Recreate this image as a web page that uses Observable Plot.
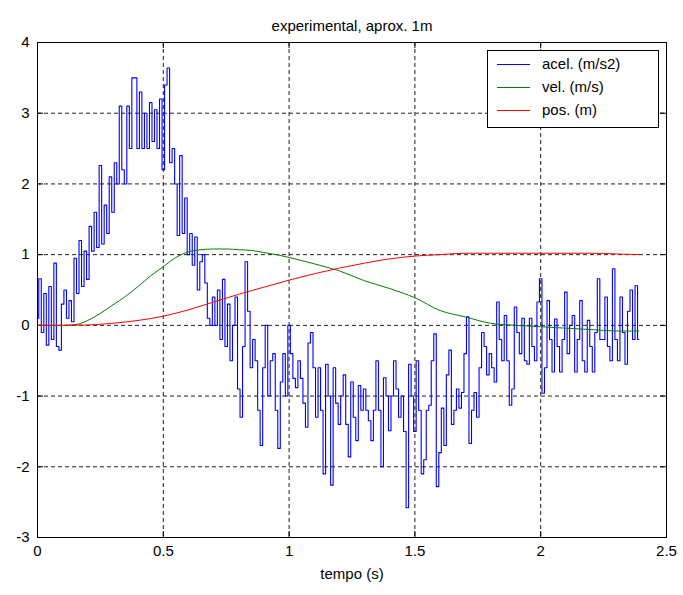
<!DOCTYPE html>
<html>
<head>
<meta charset="utf-8">
<script src="https://cdn.jsdelivr.net/npm/d3@7"></script>
<script src="https://cdn.jsdelivr.net/npm/@observablehq/plot@0.6"></script>
<style>
  html, body { margin: 0; padding: 0; background: #ffffff; }
  #chart svg { display: block; }
</style>
</head>
<body>
<div id="chart"></div>
<script>
// ---- text ----
const title = "experimental, aprox. 1m";
const xLabel = "tempo (s)";
const xTicks = [0, 0.5, 1, 1.5, 2, 2.5];
const yTicks = [-3, -2, -1, 0, 1, 2, 3, 4];
const seriesNames = ["acel. (m/s2)", "vel. (m/s)", "pos. (m)"];
const seriesColors = ["#0000ff", "#008000", "#ff0000"];

// ---- acceleration: one sample every 0.01 s, from t = 0 ----
const acelStep = 0.01;
const acel = [
  0.1, 0.66, -0.1, 0.45, -0.28, 0.55, -0.2, 0.88, -0.3, -0.35,
  0.3, 0.5, 0.1, 0.35, 0.05, 0.95, 0.45, 1.2, 0.55, 1.05,
  0.65, 1.4, 1.05, 1.6, 1.1, 2.26, 1.15, 1.7, 1.3, 2.1,
  1.6, 2.3, 2.0, 3.1, 2.2, 2.0, 3.1, 2.5, 3.5, 3.5,
  2.5, 3.3, 2.5, 3.0, 2.5, 3.15, 2.6, 3.05, 2.5, 3.2,
  2.2, 3.4, 3.64, 2.3, 2.5, 2.0, 1.27, 2.4, 1.3, 1.8,
  1.0, 1.3, 0.85, 1.25, 0.5, 0.9, 1.0, 0.6, 0.1, 0.0,
  0.4, 0.0, 0.5, -0.2, 0.65, -0.3, 0.3, -0.5, 0.0, 0.4,
  -0.9, -1.3, -0.3, 0.9, 0.2, -0.6, -0.2, -0.5, -1.2, -1.7,
  -0.6, 0.0, -1.0, -0.5, -0.4, -1.2, -1.74, -0.8, -0.4, -1.0,
  0.0, -0.4, -0.75, -0.88, -0.5, -0.75, -1.1, -1.44, -0.25, -0.1,
  -0.6, -1.3, -0.6, -1.2, -2.1, -0.55, -1.0, -2.26, -0.6, -1.1,
  -1.4, -1.0, -0.7, -1.4, -1.86, -0.8, -1.3, -1.63, -0.85, -1.2,
  -0.9, -1.2, -1.35, -1.63, -1.2, -0.5, -1.2, -2.0, -0.74, -1.0,
  -1.49, -1.0, -0.5, -0.9, -1.3, -1.0, -1.5, -2.58, -0.55, -1.0,
  -1.5, -0.5, -1.2, -2.1, -1.9, -1.2, -1.13, -0.5, -0.12, -2.28,
  -1.8, -1.17, -1.7, -0.7, -0.35, -1.4, -1.2, -0.9, -1.17, -0.95,
  -0.4, 0.12, -1.67, -1.2, -0.95, -1.3, -0.6, -0.1, -0.3, -0.7,
  -0.4, -0.6, -0.8, 0.33, -0.2, -0.5, 0.14, -0.5, -1.13, -0.9,
  0.26, -0.1, -0.4, 0.1, -0.5, -0.55, 0.1, -0.3, -0.5, 0.33,
  0.66, -0.96, -0.6, 0.35, -0.2, -0.66, 0.09, -0.3, -0.66, -0.2,
  0.47, -0.4, 0.0, 0.14, -0.66, -0.2, 0.35, -0.5, -0.66, 0.07,
  -0.3, -0.66, -0.1, 0.66, -0.2, -0.2, 0.4, -0.3, -0.5, 0.8,
  -0.2, -0.5, 0.4, -0.1, -0.55, 0.2, 0.5, -0.2, 0.56, -0.2
];

// ---- velocity ----
const velTime = [0, 0.1, 0.15, 0.2, 0.25, 0.3, 0.35, 0.4, 0.45, 0.5, 0.55, 0.6, 0.65, 0.7, 0.75, 0.8, 0.85, 0.9, 0.95, 1.0,
                 1.1, 1.2, 1.3, 1.4, 1.5, 1.6, 1.7, 1.8, 1.9, 2.0, 2.1, 2.2, 2.3, 2.39];
const vel = [0, 0, 0.01, 0.07, 0.17, 0.29, 0.41, 0.55, 0.70, 0.83, 0.96, 1.04, 1.07, 1.08, 1.08, 1.07, 1.06, 1.03, 1.0, 0.96,
             0.87, 0.77, 0.63, 0.52, 0.39, 0.21, 0.12, 0.03, 0.0, -0.02, -0.04, -0.06, -0.08, -0.08];

// ---- position ----
const posTime = [0, 0.1, 0.2, 0.3, 0.4, 0.5, 0.6, 0.7, 0.8, 0.9, 1.0, 1.1, 1.2, 1.3, 1.4, 1.5, 1.6, 1.7, 1.8, 1.9, 2.0, 2.1, 2.2, 2.3, 2.39];
const pos = [0, 0, 0.005, 0.03, 0.07, 0.13, 0.22, 0.33, 0.44, 0.54, 0.64, 0.73, 0.81, 0.88, 0.94, 0.98, 1.0, 1.02, 1.02, 1.02, 1.02, 1.02, 1.02, 1.01, 1.0];

const acelData = acel.map((v, i) => ({t: i * acelStep, v}));
const velData = vel.map((v, i) => ({t: velTime[i], v}));
const posData = pos.map((v, i) => ({t: posTime[i], v}));

const W = 683, H = 595;
const M = {left: 37, right: 17, top: 42, bottom: 58};
const frameW = W - M.left - M.right;
const frameH = H - M.top - M.bottom;
const tickLen = 6;
const font = "Arial, 'Liberation Sans', Helvetica, sans-serif";
const gridDash = "4,3";
const fs = 15;

const chart = Plot.plot({
  width: W,
  height: H,
  marginLeft: M.left,
  marginRight: M.right,
  marginTop: M.top,
  marginBottom: M.bottom,
  style: {fontFamily: font, fontSize: fs + "px", background: "#ffffff", color: "#000000", overflow: "visible"},
  x: {domain: [0, 2.5], label: null},
  y: {domain: [-3, 4], label: null},
  marks: [
    Plot.gridX(xTicks.slice(1, -1), {stroke: "#222", strokeOpacity: 1, strokeDasharray: gridDash}),
    Plot.gridY(yTicks.slice(1, -1), {stroke: "#222", strokeOpacity: 1, strokeDasharray: gridDash}),
    // inward ticks on all four sides
    Plot.tickX(xTicks, {x: d => d, stroke: "#000", insetBottom: frameH - tickLen}),
    Plot.tickX(xTicks, {x: d => d, stroke: "#000", insetTop: frameH - tickLen}),
    Plot.tickY(yTicks, {y: d => d, stroke: "#000", insetRight: frameW - tickLen}),
    Plot.tickY(yTicks, {y: d => d, stroke: "#000", insetLeft: frameW - tickLen}),
    Plot.axisX(xTicks, {anchor: "bottom", tickSize: 0, tickPadding: 8, tickFormat: d => String(d), fontSize: fs}),
    Plot.axisY(yTicks, {anchor: "left", tickSize: 0, tickPadding: 8, tickFormat: d => String(d), fontSize: fs}),
    Plot.line(acelData, {x: "t", y: "v", stroke: seriesColors[0], strokeWidth: 1.1, curve: "step"}),
    Plot.line(velData, {x: "t", y: "v", stroke: seriesColors[1], strokeWidth: 1, curve: "monotone-x"}),
    Plot.line(posData, {x: "t", y: "v", stroke: seriesColors[2], strokeWidth: 1, curve: "monotone-x"}),
    Plot.frame({stroke: "#000", strokeWidth: 1}),
    Plot.text([title], {frameAnchor: "top", dy: -22, fontSize: fs, fill: "#000"}),
    Plot.text([xLabel], {frameAnchor: "bottom", dy: 41, fontSize: fs, fill: "#000"})
  ]
});

// ---- legend (MATLAB-style box in the upper right) ----
const legend = {x: 487, y: 50, w: 171, h: 77, rows: [64, 87, 110], lineX1: 497, lineX2: 530, textX: 542};
const svg = d3.select(chart);
const g = svg.append("g")
  .attr("font-family", font)
  .attr("font-size", fs)
  .attr("text-anchor", "start");
g.append("rect")
  .attr("x", legend.x + 0.5).attr("y", legend.y + 0.5)
  .attr("width", legend.w).attr("height", legend.h)
  .attr("fill", "#ffffff").attr("stroke", "#000000").attr("stroke-width", 1);
seriesNames.forEach((name, i) => {
  const yy = legend.rows[i];
  g.append("line")
    .attr("x1", legend.lineX1).attr("x2", legend.lineX2)
    .attr("y1", yy + 0.5).attr("y2", yy + 0.5)
    .attr("stroke", seriesColors[i]).attr("stroke-width", 1);
  g.append("text")
    .attr("x", legend.textX).attr("y", yy)
    .attr("dy", "0.35em")
    .attr("text-anchor", "start")
    .attr("fill", "#000")
    .text(name);
});

document.getElementById("chart").appendChild(chart);
</script>
</body>
</html>
